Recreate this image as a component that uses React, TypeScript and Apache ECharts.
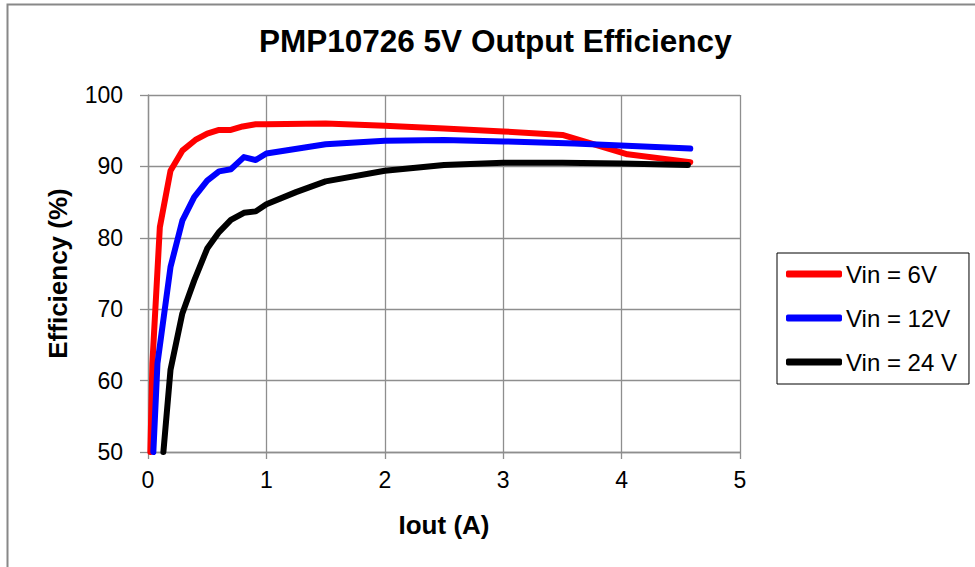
import React, { useEffect, useRef } from "react";
import * as echarts from "echarts";

const TITLE = "PMP10726 5V Output Efficiency";
const X_NAME = "Iout (A)";
const Y_NAME = "Efficiency (%)";
const SERIES_NAMES = ["Vin = 6V", "Vin = 12V", "Vin = 24 V"];
const SERIES_COLORS = ["#ff0000", "#0000ff", "#000000"];

const vin6: [number, number][] = [
  [0.02, 50], [0.037, 62.4], [0.1, 81.5], [0.19, 89.4], [0.29, 92.2], [0.4, 93.7],
  [0.5, 94.6], [0.6, 95.1], [0.7, 95.1], [0.8, 95.6], [0.91, 95.9], [1.0, 95.9],
  [1.5, 96.0], [2.0, 95.7], [2.5, 95.3], [3.0, 94.9], [3.5, 94.4], [4.05, 91.7], [4.58, 90.6],
];
const vin12: [number, number][] = [
  [0.045, 50], [0.08, 62.4], [0.19, 75.9], [0.29, 82.4], [0.39, 85.7], [0.5, 88.0],
  [0.6, 89.3], [0.7, 89.6], [0.81, 91.3], [0.91, 90.9], [1.0, 91.8], [1.5, 93.1],
  [2.0, 93.6], [2.5, 93.7], [3.0, 93.5], [3.6, 93.2], [4.58, 92.5],
];
const vin24: [number, number][] = [
  [0.13, 50], [0.19, 61.5], [0.29, 69.4], [0.39, 74.0], [0.5, 78.5], [0.6, 80.8],
  [0.7, 82.5], [0.81, 83.5], [0.91, 83.7], [1.0, 84.7], [1.25, 86.4], [1.5, 87.9],
  [2.0, 89.4], [2.5, 90.2], [3.0, 90.5], [3.5, 90.5], [4.0, 90.4], [4.56, 90.2],
];
const SERIES_DATA = [vin6, vin12, vin24];

const FONT = "'Liberation Sans', Arial, sans-serif";
const GRID_COLOR = "#8e8e8e";

export default function App() {
  const ref = useRef<HTMLDivElement>(null);
  useEffect(() => {
    if (!ref.current) return;
    const chart = echarts.init(ref.current, undefined, { renderer: "svg" });
    chart.setOption({
      animation: false,
      backgroundColor: "#ffffff",
      textStyle: { fontFamily: FONT },
      title: {
        text: TITLE,
        left: 259,
        top: 25,
        padding: 0,
        textStyle: { fontFamily: FONT, fontSize: 31.5, fontWeight: "bold", color: "#000" },
      },
      grid: { left: 148, right: 235, top: 95, bottom: 115 },
      legend: {
        orient: "vertical",
        left: 777,
        top: 253,
        padding: [9, 12, 10, 9],
        borderColor: "#000",
        borderWidth: 1,
        itemWidth: 56,
        itemHeight: 7,
        itemGap: 20,
        icon: "roundRect",
        textStyle: { fontFamily: FONT, fontSize: 24, color: "#000", padding: [0, 0, 0, -1] },
        data: SERIES_NAMES,
      },
      xAxis: {
        type: "value",
        min: 0,
        max: 5,
        interval: 1,
        name: X_NAME,
        nameLocation: "middle",
        nameGap: 60,
        nameTextStyle: { fontFamily: FONT, fontSize: 26, fontWeight: "bold", color: "#000" },
        axisLine: { show: true, lineStyle: { color: GRID_COLOR, width: 1.3 } },
        axisTick: { show: true, length: 7, lineStyle: { color: GRID_COLOR, width: 1.3 } },
        axisLabel: { fontFamily: FONT, fontSize: 23, color: "#000", margin: 16 },
        splitLine: { show: true, lineStyle: { color: GRID_COLOR, width: 1.3 } },
      },
      yAxis: {
        type: "value",
        min: 50,
        max: 100,
        interval: 10,
        name: Y_NAME,
        nameLocation: "middle",
        nameGap: 77,
        nameTextStyle: { fontFamily: FONT, fontSize: 26, fontWeight: "bold", color: "#000" },
        axisLine: { show: true, lineStyle: { color: GRID_COLOR, width: 1.3 } },
        axisTick: { show: true, length: 8, lineStyle: { color: GRID_COLOR, width: 1.3 } },
        axisLabel: { fontFamily: FONT, fontSize: 23, color: "#000", margin: 25 },
        splitLine: { show: true, lineStyle: { color: GRID_COLOR, width: 1.3 } },
      },
      series: SERIES_NAMES.map((name, i) => ({
        name,
        type: "line",
        data: SERIES_DATA[i],
        showSymbol: false,
        symbol: "none",
        color: SERIES_COLORS[i],
        lineStyle: { width: 6, color: SERIES_COLORS[i], cap: "round", join: "round" },
        clip: true,
      })),
      graphic: [
        {
          type: "rect",
          shape: { x: 7.5, y: 4.5, width: 1000, height: 600 },
          style: { fill: "none", stroke: "#888888", lineWidth: 2 },
          silent: true,
        },
      ],
    });
    return () => chart.dispose();
  }, []);
  return (
    <div
      ref={ref}
      style={{ position: "fixed", left: 0, top: 0, width: 975, height: 567 }}
    />
  );
}
